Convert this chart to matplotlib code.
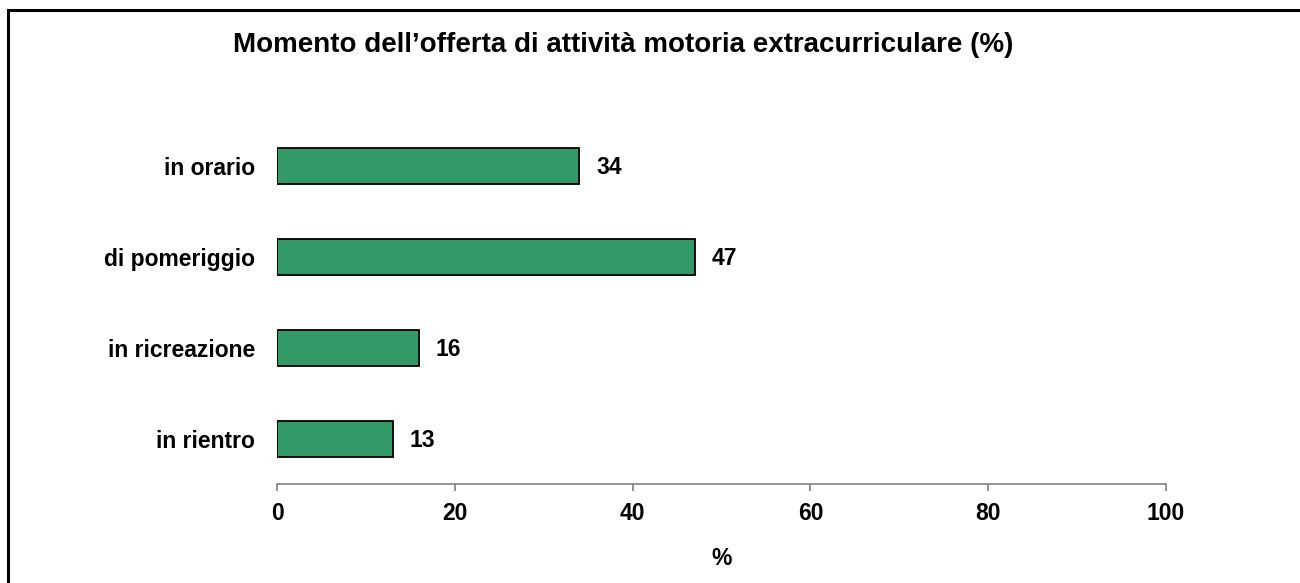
import matplotlib.pyplot as plt
from matplotlib.patches import Rectangle

# data
categories = ["in rientro", "in ricreazione", "di pomeriggio", "in orario"]
values = [13, 16, 47, 34]
xticks = [0, 20, 40, 60, 80, 100]

plt.rcParams['font.family'] = ['Liberation Sans', 'DejaVu Sans']
plt.rcParams['font.weight'] = 'bold'

fig = plt.figure(figsize=(13, 5.83), dpi=100)
ax = fig.add_axes([0.2131, 0.1698, 0.6838, 0.6235])

pos = range(len(categories))
ax.barh(pos, values, height=0.4, color="#339966", edgecolor="black", linewidth=1.3)

for p, v in zip(pos, values):
    ax.annotate("%d" % v, (v, p), xytext=(12, -1), textcoords="offset points",
                va="center", ha="left", fontsize=16.5, fontweight="bold")

ax.set_xlim(0, 100)
ax.set_ylim(-0.495, 3.5)
ax.set_xticks(xticks)
ax.set_yticks(list(pos))
ax.set_yticklabels(categories, fontsize=16.5, fontweight="bold")
ax.tick_params(axis="y", length=0, pad=16)
ax.tick_params(axis="x", direction="out", length=5, width=1.2, color="#808080",
               labelsize=16.5, pad=8)
for lab in ax.get_xticklabels():
    lab.set_fontweight("bold")

for s in ["top", "right", "left"]:
    ax.spines[s].set_visible(False)
ax.spines["bottom"].set_color("#808080")
ax.spines["bottom"].set_linewidth(1.2)

ax.set_xlabel("%", fontsize=16.5, fontweight="bold", labelpad=16)

fig.text(0.479, 1 - 52 / 583, "Momento dell\u2019offerta di attività motoria extracurriculare (%)",
         ha="center", va="baseline", fontsize=20, fontweight="bold")

# frame around the chart
fig.patches.append(Rectangle((7.5 / 1300, -0.05), 1.1, 1.05 - 10.5 / 583,
                             transform=fig.transFigure, fill=False,
                             edgecolor="black", linewidth=2.2))

fig.savefig("out.png", dpi=100)
